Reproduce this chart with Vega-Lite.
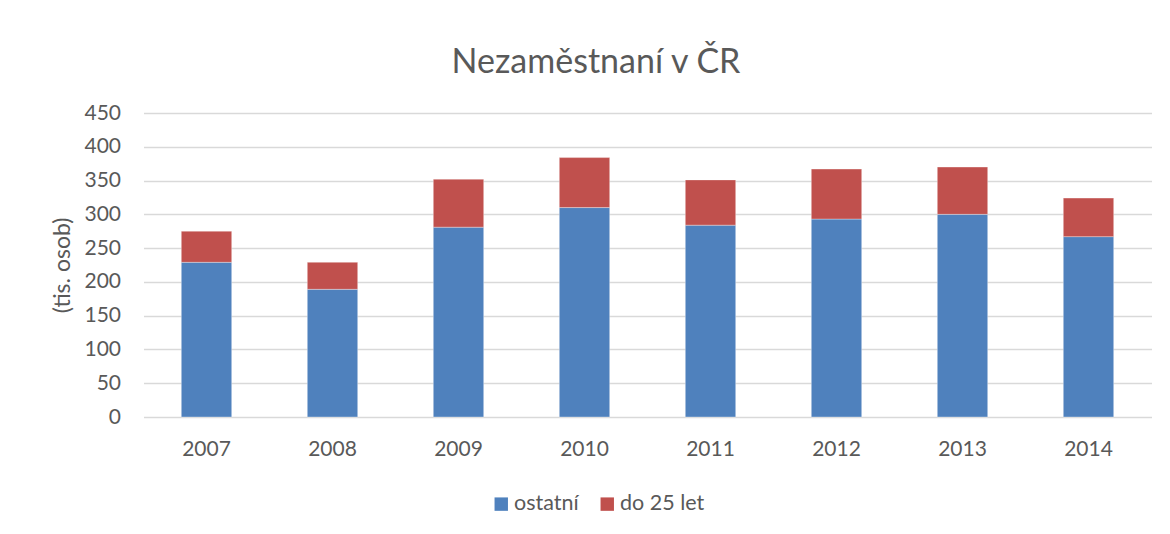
{
  "$schema": "https://vega.github.io/schema/vega-lite/v6.json",
  "autosize": {"type": "none"},
  "padding": {"left": 143.5, "top": 113, "right": 18.5, "bottom": 117},
  "width": 1008,
  "height": 304,
  "background": "white",
  "title": {
    "text": "Nezaměstnaní v ČR",
    "font": "Lato",
    "fontSize": 34,
    "fontWeight": "normal",
    "color": "#595959",
    "anchor": "middle",
    "baseline": "alphabetic",
    "offset": 41,
    "dx": -51.5,
    "dy": 46
  },
  "data": {
    "values": [
      {"rok": "2007", "skupina": "ostatní", "poradi": 1, "hodnota": 229},
      {"rok": "2007", "skupina": "do 25 let", "poradi": 2, "hodnota": 46},
      {"rok": "2008", "skupina": "ostatní", "poradi": 1, "hodnota": 189},
      {"rok": "2008", "skupina": "do 25 let", "poradi": 2, "hodnota": 40},
      {"rok": "2009", "skupina": "ostatní", "poradi": 1, "hodnota": 281},
      {"rok": "2009", "skupina": "do 25 let", "poradi": 2, "hodnota": 71},
      {"rok": "2010", "skupina": "ostatní", "poradi": 1, "hodnota": 310},
      {"rok": "2010", "skupina": "do 25 let", "poradi": 2, "hodnota": 74},
      {"rok": "2011", "skupina": "ostatní", "poradi": 1, "hodnota": 284},
      {"rok": "2011", "skupina": "do 25 let", "poradi": 2, "hodnota": 67},
      {"rok": "2012", "skupina": "ostatní", "poradi": 1, "hodnota": 293},
      {"rok": "2012", "skupina": "do 25 let", "poradi": 2, "hodnota": 74},
      {"rok": "2013", "skupina": "ostatní", "poradi": 1, "hodnota": 300},
      {"rok": "2013", "skupina": "do 25 let", "poradi": 2, "hodnota": 70},
      {"rok": "2014", "skupina": "ostatní", "poradi": 1, "hodnota": 267},
      {"rok": "2014", "skupina": "do 25 let", "poradi": 2, "hodnota": 57}
    ]
  },
  "mark": {"type": "bar", "stroke": "#ffffff", "strokeWidth": 0.75, "strokeOpacity": 0.45},
  "encoding": {
    "x": {
      "field": "rok",
      "type": "nominal",
      "scale": {"paddingInner": 0.6, "paddingOuter": 0.3},
      "axis": {
        "title": null,
        "labelAngle": 0,
        "labelFont": "Lato",
        "labelFontSize": 21,
        "labelColor": "#595959",
        "labelPadding": 21,
        "ticks": false,
        "domain": false
      }
    },
    "y": {
      "field": "hodnota",
      "type": "quantitative",
      "aggregate": "sum",
      "stack": "zero",
      "scale": {"domain": [0, 450]},
      "axis": {
        "title": "(tis. osob)",
        "values": [0, 50, 100, 150, 200, 250, 300, 350, 400, 450],
        "labelFont": "Lato",
        "labelFontSize": 21,
        "labelColor": "#595959",
        "labelPadding": 23,
        "titleFont": "Lato",
        "titleFontSize": 23,
        "titleFontWeight": "normal",
        "titleColor": "#595959",
        "titlePadding": 9,
        "ticks": false,
        "domain": false,
        "grid": true,
        "gridColor": "#d9d9d9",
        "gridWidth": 1.3
      }
    },
    "color": {
      "field": "skupina",
      "type": "nominal",
      "scale": {"domain": ["ostatní", "do 25 let"], "range": ["#4f81bd", "#c0504d"]},
      "legend": {
        "title": null,
        "orient": "none",
        "direction": "horizontal",
        "legendX": 347,
        "legendY": 380,
        "symbolType": "square",
        "symbolSize": 180,
        "symbolStrokeWidth": 0,
        "labelFont": "Lato",
        "labelFontSize": 21.5,
        "labelColor": "#595959",
        "labelOffset": 2,
        "columnPadding": 17,
        "padding": 0
      }
    },
    "order": {"field": "poradi", "type": "quantitative"}
  },
  "config": {
    "view": {"stroke": null}
  }
}
